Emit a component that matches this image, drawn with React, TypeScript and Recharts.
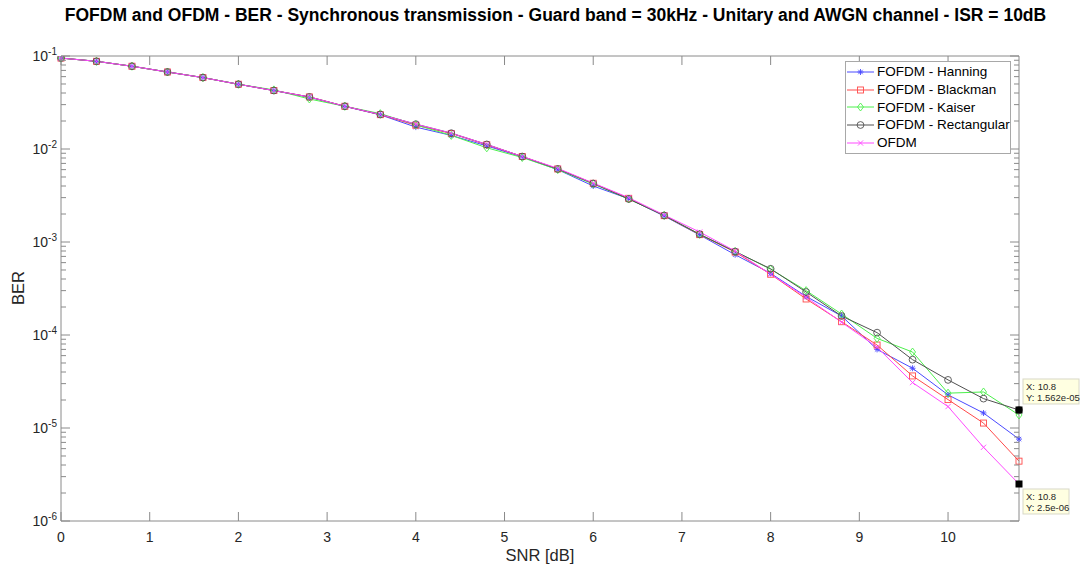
import React from "react";
import { LineChart, Line, XAxis, YAxis, Legend, ReferenceDot } from "recharts";

// SNR steps in dB
const snr = [
  0, 0.4, 0.8, 1.2, 1.6, 2.0, 2.4, 2.8, 3.2, 3.6, 4.0, 4.4, 4.8, 5.2, 5.6, 6.0,
  6.4, 6.8, 7.2, 7.6, 8.0, 8.4, 8.8, 9.2, 9.6, 10.0, 10.4, 10.8,
];

// BER curves
const hanning = [
  0.095, 0.0877, 0.0776, 0.0673, 0.0586, 0.0497, 0.0425, 0.036, 0.0287, 0.0233,
  0.0172, 0.014, 0.0108, 0.0082, 0.006, 0.004, 0.00292, 0.0019, 0.00119,
  0.00073, 0.00046, 0.00026, 0.00016, 7.0e-5, 4.39e-5, 2.27e-5, 1.45e-5, 7.6e-6,
];
const blackman = [
  0.095, 0.0877, 0.0776, 0.0673, 0.0586, 0.0497, 0.0425, 0.0363, 0.0288, 0.0234,
  0.018, 0.0147, 0.0111, 0.0083, 0.0061, 0.00428, 0.00295, 0.00192, 0.0012,
  0.00078, 0.00045, 0.000244, 0.000139, 7.8e-5, 3.63e-5, 2.02e-5, 1.13e-5, 4.4e-6,
];
const kaiser = [
  0.095, 0.0877, 0.0776, 0.0673, 0.0586, 0.0497, 0.0432, 0.0345, 0.0288, 0.024,
  0.0182, 0.014, 0.0103, 0.0081, 0.006, 0.0042, 0.0029, 0.00193, 0.00121,
  0.00079, 0.00051, 0.0003, 0.000168, 9.2e-5, 6.56e-5, 2.37e-5, 2.44e-5, 1.38e-5,
];
const rectangular = [
  0.095, 0.0877, 0.0776, 0.0673, 0.0586, 0.0497, 0.0425, 0.0363, 0.0288, 0.0235,
  0.0185, 0.0148, 0.0112, 0.0083, 0.0061, 0.00426, 0.0029, 0.00193, 0.00121,
  0.00079, 0.000515, 0.00029, 0.00016, 0.000106, 5.43e-5, 3.29e-5, 2.07e-5,
  1.562e-5,
];
const ofdm = [
  0.095, 0.0877, 0.0776, 0.0673, 0.0586, 0.0497, 0.0425, 0.0363, 0.0288, 0.0235,
  0.0185, 0.0148, 0.0112, 0.0083, 0.0062, 0.0043, 0.003, 0.00195, 0.00128,
  0.0008, 0.00045, 0.000255, 0.000137, 7.4e-5, 3.08e-5, 1.7e-5, 6.2e-6, 2.5e-6,
];

const xTicks = [0, 1, 2, 3, 4, 5, 6, 7, 8, 9, 10];
const majorTicks = [1e-6, 1e-5, 1e-4, 1e-3, 1e-2, 1e-1];
const minorTicks = majorTicks
  .slice(0, -1)
  .flatMap((d) => [2, 3, 4, 5, 6, 7, 8, 9].map((m) => m * d));
const yTicks = [...majorTicks, ...minorTicks];

// series that carry a data tip on their last point
const tipped = ["rectangular", "ofdm"];

const series = [
  { key: "hanning", name: "FOFDM - Hanning", color: "#4a4aff", marker: "star" },
  { key: "blackman", name: "FOFDM - Blackman", color: "#ff4a4a", marker: "square" },
  { key: "kaiser", name: "FOFDM - Kaiser", color: "#4cf04c", marker: "diamond" },
  { key: "rectangular", name: "FOFDM - Rectangular", color: "#505050", marker: "circle" },
  { key: "ofdm", name: "OFDM", color: "#ff4aff", marker: "cross" },
];

const data = snr.map((s, i) => ({
  snr: s,
  hanning: hanning[i],
  blackman: blackman[i],
  kaiser: kaiser[i],
  rectangular: rectangular[i],
  ofdm: ofdm[i],
}));

const FONT = '"Liberation Sans", Arial, sans-serif';
const AXIS = "#8a8a8a";
const TEXT = "#262626";
const last = snr.length - 1;

const Marker = ({ kind, cx, cy, color }: any) => {
  if (cx == null || cy == null) return null;
  const r = 3;
  const common = { stroke: color, strokeWidth: 0.9, fill: "none" };
  switch (kind) {
    case "star":
      return (
        <g {...common}>
          <line x1={cx - r} y1={cy} x2={cx + r} y2={cy} />
          <line x1={cx} y1={cy - r} x2={cx} y2={cy + r} />
          <line x1={cx - 2.2} y1={cy - 2.2} x2={cx + 2.2} y2={cy + 2.2} />
          <line x1={cx - 2.2} y1={cy + 2.2} x2={cx + 2.2} y2={cy - 2.2} />
        </g>
      );
    case "square":
      return <rect x={cx - r} y={cy - r} width={2 * r} height={2 * r} {...common} />;
    case "diamond":
      return (
        <polygon
          points={`${cx},${cy - 4} ${cx + 3},${cy} ${cx},${cy + 4} ${cx - 3},${cy}`}
          {...common}
        />
      );
    case "circle":
      return <circle cx={cx} cy={cy} r={r + 0.4} {...common} />;
    default:
      return (
        <g {...common}>
          <line x1={cx - 2.6} y1={cy - 2.6} x2={cx + 2.6} y2={cy + 2.6} />
          <line x1={cx - 2.6} y1={cy + 2.6} x2={cx + 2.6} y2={cy - 2.6} />
        </g>
      );
  }
};

const LeftTick = ({ x, y, payload }: any) => {
  const v = payload.value;
  const major = majorTicks.includes(v);
  return (
    <g>
      <line x1={x} y1={y} x2={x + (major ? 9 : 5)} y2={y} stroke={AXIS} />
      {major && (
        <text x={x - 4} y={y + 5} textAnchor="end" fill={TEXT} fontSize={14} fontFamily={FONT}>
          <tspan>10</tspan>
          <tspan dy={-6} fontSize={10}>
            {Math.round(Math.log10(v))}
          </tspan>
        </text>
      )}
    </g>
  );
};

const RightTick = ({ x, y, payload }: any) => {
  const major = majorTicks.includes(payload.value);
  return <line x1={x - (major ? 9 : 5)} y1={y} x2={x} y2={y} stroke={AXIS} />;
};

const BottomTick = ({ x, y, payload }: any) => (
  <g>
    <line x1={x} y1={y} x2={x} y2={y - 9} stroke={AXIS} />
    <text x={x} y={y + 21} textAnchor="middle" fill={TEXT} fontSize={14} fontFamily={FONT}>
      {payload.value}
    </text>
  </g>
);

const TopTick = ({ x, y }: any) => (
  <line x1={x} y1={y} x2={x} y2={y + 9} stroke={AXIS} />
);

const DataTip = ({ cx, cy, above, text }: any) => {
  const w = above ? 56 : 46;
  const top = above ? cy - 31 : cy + 5;
  return (
    <g>
      <rect x={cx + 4} y={top} width={w} height={25} fill="#ffffe1" stroke="#d8d8c8" />
      <text x={cx + 7} y={top + 11} fontSize={9.5} fontFamily={FONT} fill={TEXT}>
        X: {text[0]}
      </text>
      <text x={cx + 7} y={top + 22} fontSize={9.5} fontFamily={FONT} fill={TEXT}>
        Y: {text[1]}
      </text>
    </g>
  );
};

const renderLegend = () => (
  <div
    style={{
      border: "1px solid #a8a8a8",
      background: "#fff",
      padding: "1px 0 2px 0",
      fontFamily: FONT,
      fontSize: 13.5,
      color: "#000",
    }}
  >
    {series.map((s) => (
      <div key={s.key} style={{ display: "flex", alignItems: "center", height: 17.7 }}>
        <svg width={30} height={12} style={{ marginLeft: 1 }}>
          <line x1={0} y1={6} x2={27} y2={6} stroke={s.color} />
          <Marker kind={s.marker} cx={13.5} cy={6} color={s.color} />
        </svg>
        <span>{s.name}</span>
      </div>
    ))}
  </div>
);

const App = () => (
  <div
    style={{
      position: "absolute",
      left: 0,
      top: 0,
      width: 1083,
      height: 572,
      background: "#fff",
      fontFamily: FONT,
    }}
  >
    <style>{"body{margin:0}"}</style>
    <div
      style={{
        position: "absolute",
        top: 5,
        left: 14,
        width: 1083,
        textAlign: "center",
        fontWeight: "bold",
        fontSize: 17.5,
        color: "#000",
        whiteSpace: "nowrap",
      }}
    >
      FOFDM and OFDM - BER - Synchronous transmission - Guard band = 30kHz - Unitary and AWGN channel - ISR = 10dB
    </div>
    <div
      style={{
        position: "absolute",
        left: 540,
        top: 546,
        transform: "translateX(-50%)",
        fontSize: 16.5,
        color: TEXT,
        whiteSpace: "nowrap",
      }}
    >
      SNR [dB]
    </div>
    <div
      style={{
        position: "absolute",
        left: 18,
        top: 288,
        transform: "translate(-50%, -50%) rotate(-90deg)",
        fontSize: 16.5,
        color: TEXT,
        whiteSpace: "nowrap",
      }}
    >
      BER
    </div>
    <LineChart
      width={1083}
      height={572}
      data={data}
      margin={{ top: 55, right: 63, bottom: 50, left: 60 }}
      style={{ position: "absolute", left: 0, top: 0 }}
    >
      <XAxis
        xAxisId="bottom"
        dataKey="snr"
        type="number"
        domain={[0, 10.8]}
        ticks={xTicks}
        interval={0}
        height={1}
        tickSize={0}
        tickMargin={0}
        tickLine={false}
        axisLine={{ stroke: AXIS }}
        tick={<BottomTick />}
      />
      <XAxis
        xAxisId="top"
        orientation="top"
        dataKey="snr"
        type="number"
        domain={[0, 10.8]}
        ticks={xTicks}
        interval={0}
        height={1}
        tickSize={0}
        tickMargin={0}
        tickLine={false}
        axisLine={{ stroke: AXIS }}
        tick={<TopTick />}
      />
      <YAxis
        yAxisId="left"
        scale="log"
        type="number"
        domain={[1e-6, 1e-1]}
        allowDataOverflow
        ticks={yTicks}
        interval={0}
        width={1}
        tickSize={0}
        tickMargin={0}
        tickLine={false}
        axisLine={{ stroke: AXIS }}
        tick={<LeftTick />}
      />
      <YAxis
        yAxisId="right"
        orientation="right"
        scale="log"
        type="number"
        domain={[1e-6, 1e-1]}
        allowDataOverflow
        ticks={yTicks}
        interval={0}
        width={1}
        tickSize={0}
        tickMargin={0}
        tickLine={false}
        axisLine={{ stroke: AXIS }}
        tick={<RightTick />}
      />
      <Legend
        layout="vertical"
        align="center"
        verticalAlign="middle"
        wrapperStyle={{ position: "absolute", left: 845, top: 61, width: 166, height: "auto" }}
        content={renderLegend}
      />
      {series.map((s) => (
        <Line
          key={s.key}
          xAxisId="bottom"
          yAxisId="left"
          type="linear"
          dataKey={s.key}
          name={s.name}
          stroke={s.color}
          strokeWidth={1}
          isAnimationActive={false}
          dot={(p: any) => (
            <g key={`${s.key}-${p.index}`}>
              <Marker kind={s.marker} cx={p.cx} cy={p.cy} color={s.color} />
              {p.index === last && tipped.includes(s.key) && (
                <rect x={p.cx - 3.5} y={p.cy - 3.5} width={7} height={7} fill="#000" />
              )}
            </g>
          )}
          activeDot={false}
        />
      ))}
      <ReferenceDot
        xAxisId="bottom"
        yAxisId="left"
        x={snr[last]}
        y={rectangular[last]}
        ifOverflow="visible"
        shape={(p: any) => (
          <DataTip cx={p.cx} cy={p.cy} above text={[String(snr[last]), "1.562e-05"]} />
        )}
      />
      <ReferenceDot
        xAxisId="bottom"
        yAxisId="left"
        x={snr[last]}
        y={ofdm[last]}
        ifOverflow="visible"
        shape={(p: any) => (
          <DataTip cx={p.cx} cy={p.cy} text={[String(snr[last]), "2.5e-06"]} />
        )}
      />
    </LineChart>
  </div>
);

export default App;
